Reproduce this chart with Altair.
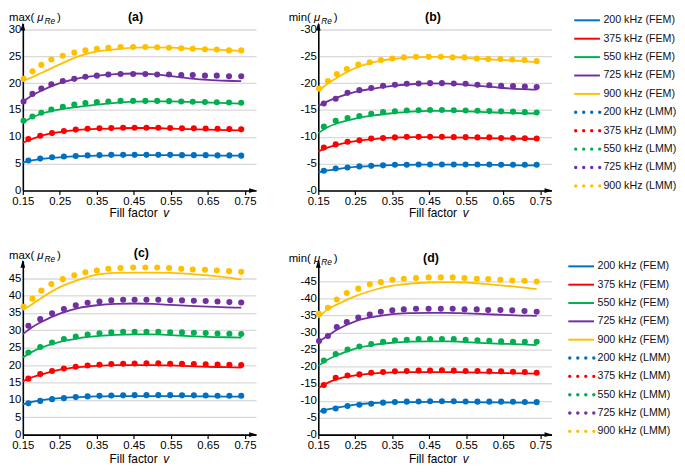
import altair as alt
import pandas as pd

FONT = "Liberation Sans"
FREQS = ["200 kHz", "375 kHz", "550 kHz", "725 kHz", "900 kHz"]
COLORS = ["#0070C0", "#FF0000", "#00B050", "#7030A0", "#FFC000"]
X_TICKS = [0.15, 0.25, 0.35, 0.45, 0.55, 0.65, 0.75]

# fill factor grids
X_FEM = [0.15, 0.175, 0.2, 0.25, 0.3, 0.35, 0.4, 0.45, 0.5, 0.55, 0.6, 0.65, 0.7, 0.74]
X_LMM20 = [0.152, 0.176, 0.2, 0.227, 0.258, 0.289, 0.319, 0.35, 0.381, 0.414,
           0.448, 0.481, 0.513, 0.545, 0.578, 0.609, 0.642, 0.674, 0.707, 0.74]
X_LMM19 = [0.165, 0.197, 0.229, 0.261, 0.293, 0.325, 0.357, 0.389, 0.421, 0.452,
           0.484, 0.516, 0.548, 0.58, 0.612, 0.644, 0.676, 0.708, 0.74]

# ---- panel (a): max(mu_Re), first material ----
A_FEM_200 = [5.2, 5.6, 5.9, 6.2, 6.4, 6.5, 6.55, 6.6, 6.6, 6.6, 6.55, 6.55, 6.5, 6.5]
A_FEM_375 = [8.9, 9.6, 10.2, 10.9, 11.3, 11.5, 11.6, 11.65, 11.65, 11.55, 11.45, 11.35, 11.25, 11.2]
A_FEM_550 = [12.7, 13.6, 14.3, 15.1, 15.6, 16.0, 16.35, 16.55, 16.6, 16.6, 16.5, 16.4, 16.3, 16.2]
A_FEM_725 = [16.5, 17.7, 18.6, 20.0, 20.9, 21.4, 21.7, 21.8, 21.7, 21.3, 20.9, 20.6, 20.45, 20.4]
A_FEM_900 = [20.4, 21.1, 21.9, 23.5, 25.0, 25.9, 26.3, 26.6, 26.65, 26.6, 26.45, 26.3, 26.15, 26.0]
A_LMM_200 = [5.6, 5.95, 6.2, 6.35, 6.45, 6.55, 6.6, 6.65, 6.65, 6.65, 6.65, 6.65, 6.65, 6.6, 6.6, 6.6, 6.55, 6.55, 6.5]
A_LMM_375 = [9.6, 10.2, 10.7, 11.1, 11.35, 11.5, 11.6, 11.65, 11.7, 11.7, 11.7, 11.7, 11.65, 11.6, 11.6, 11.55, 11.5, 11.45, 11.4]
A_LMM_550 = [13.0, 13.8, 14.5, 15.1, 15.6, 16.0, 16.3, 16.5, 16.6, 16.7, 16.7, 16.7, 16.7, 16.65, 16.6, 16.55, 16.5, 16.45, 16.4, 16.35]
A_LMM_725 = [16.6, 18.0, 19.0, 19.8, 20.4, 20.8, 21.2, 21.4, 21.6, 21.7, 21.7, 21.7, 21.6, 21.6, 21.5, 21.5, 21.4, 21.4, 21.3, 21.3]
A_LMM_900 = [20.8, 22.2, 23.4, 24.4, 25.1, 25.7, 26.1, 26.4, 26.6, 26.75, 26.75, 26.75, 26.7, 26.6, 26.5, 26.4, 26.3, 26.25, 26.1, 26.1]

# ---- panel (b): min(mu_Re), first material (magnitudes) ----
B_FEM_200 = [3.4, 3.75, 4.0, 4.4, 4.6, 4.75, 4.8, 4.85, 4.85, 4.8, 4.8, 4.75, 4.7, 4.7]
B_FEM_375 = [7.3, 8.0, 8.5, 9.2, 9.6, 9.85, 9.95, 9.95, 9.9, 9.85, 9.75, 9.7, 9.65, 9.6]
B_FEM_550 = [10.7, 11.8, 12.5, 13.4, 14.0, 14.4, 14.7, 14.85, 14.85, 14.75, 14.6, 14.5, 14.4, 14.35]
B_FEM_725 = [15.8, 16.6, 17.3, 18.4, 19.0, 19.5, 19.8, 19.95, 19.9, 19.7, 19.4, 19.1, 18.9, 18.8]
B_FEM_900 = [18.5, 19.9, 21.0, 22.8, 23.9, 24.5, 24.8, 24.9, 24.9, 24.7, 24.5, 24.3, 24.1, 23.9]
B_LMM_200 = [3.7, 4.1, 4.3, 4.5, 4.6, 4.7, 4.8, 4.8, 4.85, 4.85, 4.85, 4.85, 4.85, 4.85, 4.85, 4.8, 4.8, 4.8, 4.8]
B_LMM_375 = [8.0, 8.6, 9.1, 9.35, 9.7, 9.8, 9.9, 10.0, 10.0, 10.0, 10.0, 9.95, 9.95, 9.9, 9.9, 9.8, 9.8, 9.75, 9.7]
B_LMM_550 = [11.9, 13.0, 13.5, 13.9, 14.3, 14.6, 14.75, 14.9, 14.95, 15.0, 15.0, 14.95, 14.9, 14.85, 14.8, 14.75, 14.7, 14.6, 14.55]
B_LMM_725 = [16.2, 17.1, 18.2, 18.7, 19.1, 19.5, 19.7, 19.9, 19.95, 20.0, 20.0, 19.95, 19.9, 19.7, 19.6, 19.5, 19.45, 19.35, 19.3]
B_LMM_900 = [19.0, 20.4, 21.7, 22.65, 23.45, 23.9, 24.3, 24.6, 24.8, 24.9, 24.9, 24.9, 24.8, 24.8, 24.6, 24.5, 24.5, 24.4, 24.3, 24.1]

# ---- panel (c): max(mu_Re), second material ----
C_FEM_200 = [8.7, 9.4, 9.9, 10.5, 10.8, 11.0, 11.05, 11.1, 11.1, 11.1, 11.05, 11.0, 10.95, 10.9]
C_FEM_375 = [15.3, 16.5, 17.3, 18.7, 19.4, 19.8, 20.0, 20.0, 20.0, 19.9, 19.7, 19.5, 19.4, 19.3]
C_FEM_550 = [22.2, 23.8, 25.0, 26.7, 27.7, 28.3, 28.7, 28.8, 28.8, 28.6, 28.3, 28.1, 28.0, 27.9]
C_FEM_725 = [28.9, 30.9, 32.4, 34.8, 36.4, 37.2, 37.6, 37.7, 37.6, 37.3, 37.0, 36.8, 36.6, 36.5]
C_FEM_900 = [35.8, 37.5, 39.3, 42.4, 44.5, 46.0, 46.5, 46.6, 46.6, 46.5, 46.25, 45.8, 45.2, 44.6]
C_LMM_200 = [9.0, 9.7, 10.2, 10.5, 10.8, 11.0, 11.15, 11.25, 11.3, 11.35, 11.35, 11.35, 11.35, 11.3, 11.3, 11.25, 11.2, 11.2, 11.2]
C_LMM_375 = [16.1, 17.4, 18.3, 19.0, 19.5, 19.9, 20.1, 20.3, 20.4, 20.45, 20.5, 20.5, 20.4, 20.35, 20.3, 20.25, 20.15, 20.1, 20.0]
C_LMM_550 = [23.6, 25.2, 26.5, 27.5, 28.2, 28.8, 29.15, 29.4, 29.55, 29.6, 29.6, 29.55, 29.45, 29.4, 29.3, 29.2, 29.1, 29.0, 28.9]
C_LMM_725 = [31.3, 33.2, 34.9, 36.1, 37.2, 37.9, 38.3, 38.6, 38.8, 38.8, 38.8, 38.8, 38.65, 38.6, 38.5, 38.4, 38.3, 38.1, 38.0]
C_LMM_900 = [36.75, 39.1, 41.4, 43.3, 44.7, 45.8, 46.7, 47.2, 47.7, 47.9, 48.05, 48.05, 48.05, 47.9, 47.7, 47.5, 47.4, 47.2, 47.0, 46.8]

# ---- panel (d): min(mu_Re), second material (magnitudes) ----
D_FEM_200 = [6.7, 7.4, 7.9, 8.8, 9.3, 9.5, 9.55, 9.6, 9.6, 9.55, 9.5, 9.45, 9.4, 9.35]
D_FEM_375 = [13.7, 15.2, 16.3, 17.4, 18.0, 18.3, 18.4, 18.4, 18.4, 18.3, 18.2, 18.1, 18.0, 17.9]
D_FEM_550 = [20.2, 22.0, 23.3, 25.3, 26.4, 27.0, 27.3, 27.4, 27.4, 27.2, 26.9, 26.7, 26.5, 26.3]
D_FEM_725 = [27.3, 29.0, 30.8, 33.3, 34.6, 35.4, 35.7, 35.8, 35.8, 35.6, 35.4, 35.2, 35.0, 34.9]
D_FEM_900 = [34.3, 36.8, 38.2, 40.7, 42.5, 43.75, 44.4, 44.7, 44.8, 44.7, 44.3, 43.8, 43.3, 42.8]
D_LMM_200 = [7.0, 7.7, 8.4, 8.8, 9.1, 9.4, 9.6, 9.7, 9.75, 9.8, 9.8, 9.8, 9.75, 9.7, 9.7, 9.7, 9.65, 9.6, 9.55]
D_LMM_375 = [14.6, 16.7, 17.4, 17.7, 18.2, 18.4, 18.6, 18.7, 18.8, 18.8, 18.9, 18.8, 18.7, 18.7, 18.6, 18.6, 18.5, 18.4, 18.2]
D_LMM_550 = [21.8, 23.7, 25.0, 25.9, 26.6, 27.3, 27.7, 27.9, 28.1, 28.1, 28.1, 28.1, 27.9, 27.7, 27.6, 27.4, 27.3, 27.3, 27.3]
D_LMM_725 = [27.5, 29.0, 31.6, 33.1, 34.4, 35.3, 36.1, 36.5, 36.8, 37.0, 37.0, 37.0, 37.0, 36.8, 36.8, 36.6, 36.6, 36.5, 36.3, 36.1]
D_LMM_900 = [35.5, 37.3, 39.7, 41.6, 42.9, 44.2, 44.8, 45.5, 45.8, 46.0, 46.2, 46.2, 46.2, 46.0, 45.8, 45.7, 45.5, 45.3, 45.2, 45.0]

Y_TICKS_AB = [0, 5, 10, 15, 20, 25, 30]
Y_TICKS_CD = [0, 5, 10, 15, 20, 25, 30, 35, 40, 45]

ONE = pd.DataFrame({"k": [0]})
ARROW_UP = "M0,-1L0.6,1L-0.6,1Z"
ARROW_RIGHT = "M1,0L-1,-0.6L-1,0.6Z"
COLOR = alt.Color("freq:N", scale=alt.Scale(domain=FREQS, range=COLORS), legend=None)
PW = 236


def long_df(lists, kind):
    rows = []
    for f, vals in zip(FREQS, lists):
        if kind == "FEM":
            xs = X_FEM
        else:
            xs = X_LMM20 if len(vals) == 20 else X_LMM19
        for x, y in zip(xs, vals):
            rows.append({"x": x, "y": y, "freq": f})
    return pd.DataFrame(rows)


def txt(text, x, y, size=11.5, weight="normal", style="normal", align="left"):
    return alt.Chart(ONE).mark_text(
        text=text, align=align, baseline="middle", font=FONT, fontSize=size,
        fontWeight=weight, fontStyle=style, color="black"
    ).encode(x=alt.value(x), y=alt.value(y))


def panel(fem, lmm, ymax, ticks, h, neg, letter, prefix, L, lab_dy, t_dx, t_dy, xt_dx, xt_dy):
    xscale = alt.Scale(domain=[0.15, 0.78], nice=False, zero=False)
    yscale = alt.Scale(domain=[0, ymax], nice=False, zero=True)
    xaxis = alt.Axis(values=X_TICKS, format=".2f", grid=False, title=None,
                     domainColor="black", domainWidth=1.6, tickColor="black",
                     tickWidth=1.2, tickSize=4, labelFontSize=11.5, labelFont=FONT,
                     labelColor="black", labelPadding=1, labelFlush=False,
                     labelOverlap=False)
    ykw = dict(values=ticks, grid=True, gridColor="#D9D9D9", gridWidth=1.3, ticks=False,
               title=None, domainColor="black", domainWidth=1.6, labelFontSize=11.5,
               labelFont=FONT, labelColor="black", labelPadding=2, labelFlush=False,
               labelOverlap=False)
    if neg:
        ykw["labelExpr"] = "'-' + datum.label"
    x_enc = alt.X("x:Q", scale=xscale, axis=xaxis)
    y_enc = alt.Y("y:Q", scale=yscale, axis=alt.Axis(**ykw))

    lines = alt.Chart(long_df(fem, "FEM")).mark_line(
        strokeWidth=1.8, interpolate="monotone").encode(x=x_enc, y=y_enc, color=COLOR)
    pts = alt.Chart(long_df(lmm, "LMM")).mark_circle(size=38, opacity=1).encode(
        x=x_enc, y=y_enc, color=COLOR)

    up = alt.Chart(ONE).mark_point(shape=ARROW_UP, filled=True, color="black", size=64,
                                   opacity=1, strokeWidth=0).encode(
        x=alt.value(0), y=alt.value(3))
    right = alt.Chart(ONE).mark_point(shape=ARROW_RIGHT, filled=True, color="black", size=64,
                                      opacity=1, strokeWidth=0).encode(
        x=alt.value(PW - 3), y=alt.value(h))

    offs = [0, 28.6, 36.0, 48.6] if prefix == "max(" else [0, 25.6, 33.0, 45.6]
    labels = [
        txt(prefix, L + offs[0], lab_dy),
        txt("μ", L + offs[1], lab_dy, style="italic"),
        txt("Re", L + offs[2], lab_dy + 3.5, size=8.5, style="italic"),
        txt(")", L + offs[3], lab_dy),
        txt("(" + letter + ")", t_dx, t_dy, size=12.5, weight="bold", align="center"),
        txt("Fill factor", xt_dx - 30.2, h + xt_dy, size=12),
        txt("v", xt_dx + 24.2, h + xt_dy, size=12, style="italic"),
    ]
    return alt.layer(lines, pts, up, right, *labels).properties(width=PW, height=h)


def legend(x0, y0, dy, h):
    df = pd.DataFrame({
        "row": list(range(10)),
        "label": [f + " (FEM)" for f in FREQS] + [f + " (LMM)" for f in FREQS],
        "freq": FREQS + FREQS,
        "kind": ["FEM"] * 5 + ["LMM"] * 5,
    })
    ysc = alt.Scale(domain=[0, 9], range=[y0, y0 + 9 * dy])
    y_enc = alt.Y("row:Q", scale=ysc, axis=None)
    base = alt.Chart(df)
    layers = [
        base.transform_filter("datum.kind == 'FEM'").mark_rule(strokeWidth=2).encode(
            x=alt.value(x0), x2=alt.value(x0 + 26), y=y_enc, color=COLOR)
    ]
    for k in range(4):
        layers.append(
            base.transform_filter("datum.kind == 'LMM'").mark_circle(size=12, opacity=1).encode(
                x=alt.value(x0 + 1.5 + k * 8.1), y=y_enc, color=COLOR))
    layers.append(base.mark_text(align="left", baseline="middle", font=FONT, fontSize=10.8,
                                 color="#111").encode(
        x=alt.value(x0 + 29.5), y=y_enc, text="label:N"))
    return alt.layer(*layers).properties(width=40, height=h)


H1 = 169
H2 = 176

pa = panel([A_FEM_200, A_FEM_375, A_FEM_550, A_FEM_725, A_FEM_900],
           [A_LMM_200, A_LMM_375, A_LMM_550, A_LMM_725, A_LMM_900],
           31.1, Y_TICKS_AB, H1, False, "a", "max(", -14, -6, 114, -7, 118, 23)
pb = panel([B_FEM_200, B_FEM_375, B_FEM_550, B_FEM_725, B_FEM_900],
           [B_LMM_200, B_LMM_375, B_LMM_550, B_LMM_725, B_LMM_900],
           31.1, Y_TICKS_AB, H1, True, "b", "min(", -30, -6, 116, -7, 122, 23)
pc = panel([C_FEM_200, C_FEM_375, C_FEM_550, C_FEM_725, C_FEM_900],
           [C_LMM_200, C_LMM_375, C_LMM_550, C_LMM_725, C_LMM_900],
           50, Y_TICKS_CD, H2, False, "c", "max(", -14, -5, 120, -8, 118, 25)
pd_ = panel([D_FEM_200, D_FEM_375, D_FEM_550, D_FEM_725, D_FEM_900],
            [D_LMM_200, D_LMM_375, D_LMM_550, D_LMM_725, D_LMM_900],
            51.1, Y_TICKS_CD, H2, True, "d", "min(", -30, -2, 114, -3, 122, 25)

leg1 = legend(-40, -3.3, 18.62, H1)
leg2 = legend(-46, 5.7, 18.55, H2)

chart = alt.concat(pa, pb, leg1, pc, pd_, leg2, columns=3,
                   spacing={"row": 71, "column": 63}, bounds="flush", align="each").properties(
    padding=0, background="white"
).configure_view(stroke=None)

chart.save("out.html", embed_options={"renderer": "svg", "actions": False})
